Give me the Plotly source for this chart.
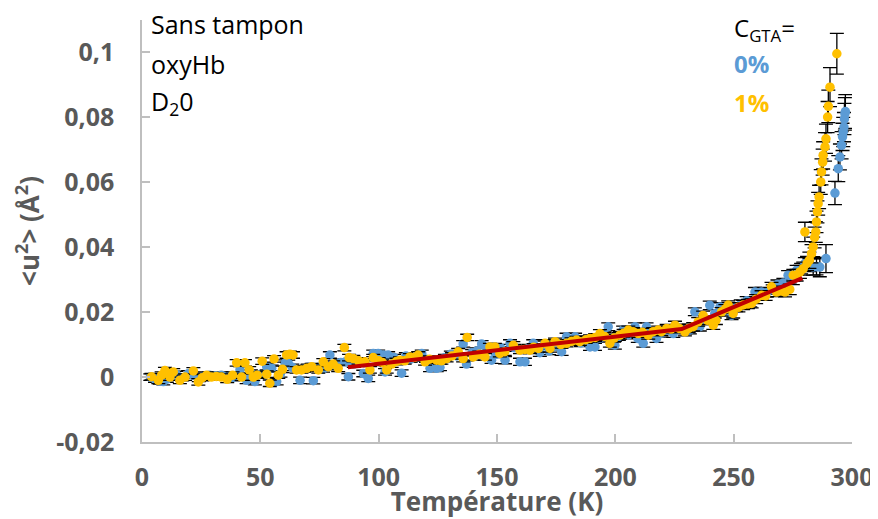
import plotly.graph_objects as go

# ---------------- data ----------------
T_blue = [
    3.5, 5.5, 7.5, 9.0, 10.5, 12.5, 14.5, 17.0, 19.5, 21.5,
    24.0, 26.0, 28.5, 31.0, 33.5, 36.0, 38.5, 41.4, 44.2, 46.0,
    47.7, 50.0, 52.7, 54.8, 56.9, 58.5, 60.4, 61.8, 63.5, 66.8,
    68.5, 70.0, 72.4, 74.5, 76.5, 79.4, 81.5, 84.0, 86.0, 87.2,
    89.5, 91.5, 93.5, 95.6, 97.7, 99.8, 102.0, 102.7, 104.0, 106.5,
    109.7, 111.5, 113.5, 116.0, 118.2, 120.0, 121.7, 124.5, 125.9, 128.0,
    130.5, 133.0, 135.7, 137.1, 139.5, 141.5, 143.5, 145.5, 147.7, 149.5,
    151.5, 153.4, 155.5, 157.5, 159.7, 161.8, 163.5, 165.3, 168.1, 170.0,
    172.0, 174.5, 177.3, 179.4, 181.5, 183.0, 185.5, 187.5, 189.3, 191.4,
    193.5, 195.5, 197.0, 199.8, 201.5, 203.3, 205.5, 208.3, 209.5, 211.8,
    213.2, 215.5, 217.4, 219.5, 222.0, 224.5, 227.0, 229.5, 231.5, 233.6,
    235.7, 238.0, 239.9, 242.0, 244.2, 246.0, 249.1, 251.0, 253.0, 255.5,
    257.0, 259.0, 261.8, 264.0, 266.5, 268.5, 271.0, 273.0, 275.0, 276.6,
    278.5, 280.1, 282.0, 283.6, 285.0, 286.4, 289.0, 292.8, 294.2, 294.9,
    295.6, 296.0, 296.3, 296.6, 296.8, 297.0, 297.2,
]
u2_blue = [
    0.0000, -0.0006, -0.0012, -0.0014, -0.0006, 0.0004, 0.0008, -0.0002, 0.0010, 0.0006,
    -0.0004, 0.0002, 0.0006, 0.0004, 0.0006, 0.0002, -0.0002, 0.0022, -0.0010, 0.0012,
    -0.0014, 0.0008, 0.0032, 0.0027, -0.0014, 0.0010, 0.0043, 0.0042, 0.0030, -0.0010,
    0.0025, 0.0030, -0.0011, 0.0030, 0.0025, 0.0068, 0.0035, 0.0045, 0.0047, 0.0001,
    0.0040, 0.0050, 0.0011, -0.0004, 0.0073, 0.0073, 0.0068, 0.0016, 0.0068, 0.0060,
    0.0012, 0.0065, 0.0055, 0.0060, 0.0073, 0.0055, 0.0027, 0.0027, 0.0030, 0.0060,
    0.0070, 0.0065, 0.0102, 0.0040, 0.0075, 0.0080, 0.0102, 0.0085, 0.0052, 0.0070,
    0.0090, 0.0052, 0.0104, 0.0090, 0.0047, 0.0047, 0.0090, 0.0104, 0.0075, 0.0100,
    0.0080, 0.0095, 0.0078, 0.0124, 0.0110, 0.0124, 0.0105, 0.0115, 0.0093, 0.0093,
    0.0120, 0.0130, 0.0155, 0.0098, 0.0125, 0.0145, 0.0130, 0.0155, 0.0119, 0.0104,
    0.0155, 0.0140, 0.0119, 0.0135, 0.0145, 0.0134, 0.0150, 0.0145, 0.0145, 0.0201,
    0.0155, 0.0175, 0.0221, 0.0195, 0.0216, 0.0205, 0.0190, 0.0215, 0.0225, 0.0235,
    0.0230, 0.0262, 0.0262, 0.0260, 0.0270, 0.0285, 0.0290, 0.0314, 0.0300, 0.0329,
    0.0334, 0.0350, 0.0345, 0.0339, 0.0340, 0.0339, 0.0365, 0.0567, 0.0642, 0.0678,
    0.0714, 0.0740, 0.0755, 0.0770, 0.0795, 0.0811, 0.0818,
]
err_blue = [
    0.0010, 0.0010, 0.0010, 0.0010, 0.0010, 0.0010, 0.0010, 0.0010, 0.0010, 0.0010,
    0.0010, 0.0010, 0.0010, 0.0010, 0.0010, 0.0010, 0.0010, 0.0010, 0.0010, 0.0010,
    0.0010, 0.0010, 0.0010, 0.0010, 0.0010, 0.0010, 0.0010, 0.0010, 0.0010, 0.0010,
    0.0010, 0.0010, 0.0010, 0.0010, 0.0010, 0.0010, 0.0010, 0.0010, 0.0010, 0.0010,
    0.0010, 0.0010, 0.0010, 0.0010, 0.0010, 0.0010, 0.0010, 0.0010, 0.0010, 0.0010,
    0.0010, 0.0010, 0.0010, 0.0010, 0.0010, 0.0010, 0.0010, 0.0010, 0.0010, 0.0010,
    0.0010, 0.0010, 0.0010, 0.0010, 0.0010, 0.0010, 0.0010, 0.0010, 0.0010, 0.0010,
    0.0011, 0.0011, 0.0011, 0.0011, 0.0011, 0.0011, 0.0011, 0.0011, 0.0011, 0.0011,
    0.0011, 0.0011, 0.0011, 0.0011, 0.0011, 0.0011, 0.0011, 0.0011, 0.0011, 0.0011,
    0.0012, 0.0012, 0.0012, 0.0012, 0.0012, 0.0012, 0.0012, 0.0012, 0.0012, 0.0012,
    0.0012, 0.0012, 0.0012, 0.0012, 0.0012, 0.0012, 0.0012, 0.0012, 0.0012, 0.0012,
    0.0013, 0.0013, 0.0013, 0.0013, 0.0013, 0.0013, 0.0013, 0.0013, 0.0013, 0.0013,
    0.0014, 0.0014, 0.0014, 0.0014, 0.0014, 0.0014, 0.0014, 0.0014, 0.0015, 0.0015,
    0.0016, 0.0018, 0.0020, 0.0025, 0.0025, 0.0030, 0.0043, 0.0036, 0.0040, 0.0040,
    0.0042, 0.0042, 0.0045, 0.0045, 0.0048, 0.0050, 0.0052,
]

T_gold = [
    4.0, 6.9, 8.3, 9.7, 11.8, 13.2, 16.0, 18.2, 21.7, 23.8,
    25.5, 27.3, 29.3, 31.4, 33.5, 36.0, 38.3, 40.0, 42.1, 43.5,
    45.3, 47.0, 48.7, 50.8, 52.7, 54.0, 55.8, 57.6, 59.4, 61.1,
    62.5, 63.8, 65.3, 67.4, 69.6, 71.7, 74.5, 76.6, 78.7, 80.8,
    82.9, 85.5, 87.5, 89.3, 91.5, 94.2, 96.3, 97.7, 100.0, 101.5,
    103.4, 105.5, 107.5, 109.0, 111.0, 113.2, 115.0, 116.7, 119.6, 121.5,
    124.5, 126.5, 128.7, 131.0, 133.6, 135.7, 137.4, 140.0, 142.5, 144.9,
    147.0, 149.1, 151.2, 153.3, 156.9, 159.7, 161.8, 163.9, 165.5, 167.5,
    170.3, 172.4, 174.5, 177.0, 179.4, 181.5, 183.6, 185.0, 187.5, 189.3,
    191.5, 193.5, 195.5, 197.7, 199.5, 201.9, 203.5, 205.5, 207.5, 209.7,
    211.5, 213.9, 216.0, 218.1, 219.5, 221.7, 223.5, 225.2, 227.0, 229.4,
    231.0, 232.9, 235.0, 237.1, 239.0, 241.4, 242.5, 244.9, 246.5, 247.7,
    249.8, 252.0, 254.0, 256.0, 257.6, 259.5, 261.8, 263.5, 266.0, 268.1,
    270.0, 271.7, 273.7, 275.2, 276.6, 278.0, 279.4, 280.1, 281.0, 282.0,
    282.9, 283.6, 284.2, 284.7, 285.0, 285.4, 285.7, 286.1, 286.8, 287.1,
    287.6, 287.8, 288.6, 289.0, 289.7, 290.0, 290.7, 293.6,
]
u2_gold = [
    0.0001, -0.0010, 0.0006, 0.0020, 0.0000, 0.0016, -0.0010, 0.0000, 0.0019, -0.0015,
    -0.0002, 0.0006, 0.0000, 0.0002, 0.0000, -0.0007, 0.0006, 0.0044, 0.0000, 0.0044,
    0.0022, 0.0000, 0.0006, 0.0049, 0.0009, -0.0019, 0.0056, 0.0006, 0.0024, 0.0068,
    0.0070, 0.0068, 0.0022, 0.0022, 0.0027, 0.0032, 0.0022, 0.0047, 0.0032, 0.0040,
    0.0027, 0.0091, 0.0060, 0.0057, 0.0050, 0.0047, 0.0022, 0.0060, 0.0050, 0.0045,
    0.0022, 0.0040, 0.0048, 0.0052, 0.0050, 0.0062, 0.0060, 0.0068, 0.0047, 0.0055,
    0.0052, 0.0050, 0.0057, 0.0065, 0.0078, 0.0057, 0.0122, 0.0062, 0.0070, 0.0062,
    0.0093, 0.0093, 0.0073, 0.0078, 0.0098, 0.0083, 0.0085, 0.0083, 0.0092, 0.0088,
    0.0104, 0.0088, 0.0109, 0.0100, 0.0104, 0.0110, 0.0114, 0.0109, 0.0115, 0.0119,
    0.0122, 0.0134, 0.0125, 0.0104, 0.0120, 0.0129, 0.0135, 0.0145, 0.0140, 0.0134,
    0.0138, 0.0129, 0.0140, 0.0145, 0.0140, 0.0150, 0.0148, 0.0160, 0.0150, 0.0139,
    0.0150, 0.0155, 0.0170, 0.0190, 0.0175, 0.0160, 0.0175, 0.0201, 0.0210, 0.0222,
    0.0196, 0.0215, 0.0222, 0.0225, 0.0227, 0.0240, 0.0252, 0.0250, 0.0278, 0.0262,
    0.0265, 0.0262, 0.0270, 0.0314, 0.0314, 0.0324, 0.0334, 0.0447, 0.0350, 0.0360,
    0.0380, 0.0401, 0.0430, 0.0447, 0.0478, 0.0509, 0.0534, 0.0555, 0.0601, 0.0632,
    0.0662, 0.0683, 0.0709, 0.0734, 0.0801, 0.0834, 0.0893, 0.0996,
]
err_gold = [
    0.0010, 0.0010, 0.0010, 0.0010, 0.0010, 0.0010, 0.0010, 0.0010, 0.0010, 0.0010,
    0.0010, 0.0010, 0.0010, 0.0010, 0.0010, 0.0010, 0.0010, 0.0010, 0.0010, 0.0010,
    0.0010, 0.0010, 0.0010, 0.0010, 0.0010, 0.0010, 0.0010, 0.0010, 0.0010, 0.0010,
    0.0010, 0.0010, 0.0010, 0.0010, 0.0010, 0.0010, 0.0010, 0.0010, 0.0010, 0.0010,
    0.0010, 0.0010, 0.0010, 0.0010, 0.0010, 0.0010, 0.0010, 0.0010, 0.0010, 0.0010,
    0.0010, 0.0010, 0.0010, 0.0010, 0.0010, 0.0010, 0.0010, 0.0010, 0.0010, 0.0010,
    0.0010, 0.0010, 0.0010, 0.0010, 0.0010, 0.0010, 0.0010, 0.0010, 0.0010, 0.0010,
    0.0011, 0.0011, 0.0011, 0.0011, 0.0011, 0.0011, 0.0011, 0.0011, 0.0011, 0.0011,
    0.0011, 0.0011, 0.0011, 0.0011, 0.0011, 0.0011, 0.0011, 0.0011, 0.0011, 0.0011,
    0.0012, 0.0012, 0.0012, 0.0012, 0.0012, 0.0012, 0.0012, 0.0012, 0.0012, 0.0012,
    0.0012, 0.0012, 0.0012, 0.0012, 0.0012, 0.0012, 0.0012, 0.0012, 0.0012, 0.0012,
    0.0013, 0.0013, 0.0013, 0.0013, 0.0013, 0.0013, 0.0013, 0.0013, 0.0013, 0.0013,
    0.0014, 0.0014, 0.0014, 0.0014, 0.0014, 0.0014, 0.0014, 0.0014, 0.0014, 0.0014,
    0.0015, 0.0015, 0.0016, 0.0018, 0.0018, 0.0020, 0.0020, 0.0030, 0.0022, 0.0025,
    0.0028, 0.0030, 0.0032, 0.0032, 0.0033, 0.0034, 0.0035, 0.0036, 0.0038, 0.0040,
    0.0040, 0.0042, 0.0044, 0.0045, 0.0048, 0.0050, 0.0060, 0.0063,
]

# piecewise linear fit (red line)
T_fit = [87, 228, 279]
u2_fit = [0.0030, 0.0148, 0.0305]

x_ticks = [0, 50, 100, 150, 200, 250, 300]
x_tick_labels = ["0", "50", "100", "150", "200", "250", "300"]
y_ticks = [-0.02, 0, 0.02, 0.04, 0.06, 0.08, 0.1]
y_tick_labels = ["-0,02", "0", "0,02", "0,04", "0,06", "0,08", "0,1"]

BLUE = "#5B9BD5"
GOLD = "#FFC000"
RED = "#C00000"
GRAY = "#595959"
AXIS = "#BFBFBF"
FONT = "Open Sans"

# ---------------- figure geometry ----------------
OFF = 8                      # default page body margin
W, H = 878 - OFF, 519 - OFF
PX_L, PX_R, PX_T, PX_B = 142, 852, 20, 442   # plot area in page pixels
L, R = PX_L - OFF, W - (PX_R - OFF)
T, B = PX_T - OFF, H - (PX_B - OFF)

fig = go.Figure()

fig.add_trace(go.Scatter(
    x=T_blue, y=u2_blue, mode="markers", name="0%",
    marker=dict(color=BLUE, size=9.5),
    error_y=dict(type="data", array=err_blue, visible=True,
                 color="black", thickness=1.3, width=7),
))
fig.add_trace(go.Scatter(
    x=T_gold, y=u2_gold, mode="markers", name="1%",
    marker=dict(color=GOLD, size=9.5),
    error_y=dict(type="data", array=err_gold, visible=True,
                 color="black", thickness=1.3, width=7),
))
fig.add_trace(go.Scatter(
    x=T_fit, y=u2_fit, mode="lines", name="fit",
    line=dict(color=RED, width=4),
))

def px_x(p):
    return (p - PX_L) / (PX_R - PX_L)

def px_y(p):
    return (PX_B - p) / (PX_B - PX_T)

annots = [
    ("Sans tampon", 149, 24, "black", 25),
    ("oxyHb", 149, 64, "black", 25),
    ("D<sub>2</sub>0", 149, 103, "black", 25),
    ("C<sub>GTA</sub>=", 732, 29, "black", 24),
    ("<b>0%</b>", 732, 64, BLUE, 24),
    ("<b>1%</b>", 732, 103, GOLD, 24),
]
for text, ax_, ay_, col, fs in annots:
    fig.add_annotation(
        x=px_x(ax_), y=px_y(ay_), xref="paper", yref="paper",
        text=text, showarrow=False, xanchor="left", yanchor="middle",
        font=dict(family=FONT, size=fs, color=col),
    )

fig.update_layout(
    width=W, height=H,
    margin=dict(l=L, r=R, t=T, b=B, pad=0),
    paper_bgcolor="white", plot_bgcolor="white",
    showlegend=False,
    font=dict(family=FONT, color=GRAY),
    separators=", ",
)
fig.update_xaxes(
    range=[0, 300], tickvals=x_ticks, ticktext=x_tick_labels,
    showgrid=False, zeroline=False,
    showline=True, linecolor=AXIS, linewidth=1.5,
    ticks="inside", ticklen=8, tickcolor=AXIS, tickwidth=1.5,
    tickfont=dict(family=FONT, size=25, color=GRAY, weight="bold"),
    ticklabelstandoff=12,
    title=dict(text="<b>Température (K)</b>", standoff=7,
               font=dict(family=FONT, size=26, color=GRAY)),
    automargin=False,
)
fig.update_yaxes(
    range=[-0.02, 0.11], tickvals=y_ticks, ticktext=y_tick_labels,
    showgrid=False, zeroline=False,
    showline=True, linecolor=AXIS, linewidth=1.5,
    ticks="inside", ticklen=8, tickcolor=AXIS, tickwidth=1.5,
    tickfont=dict(family=FONT, size=25, color=GRAY, weight="bold"),
    ticklabelstandoff=21,
    title=dict(text="<b>&lt;u<sup>2</sup>&gt; (Å<sup>2</sup>)</b>", standoff=9,
               font=dict(family=FONT, size=26, color=GRAY)),
    automargin=False,
)

fig.write_html("out.html")
